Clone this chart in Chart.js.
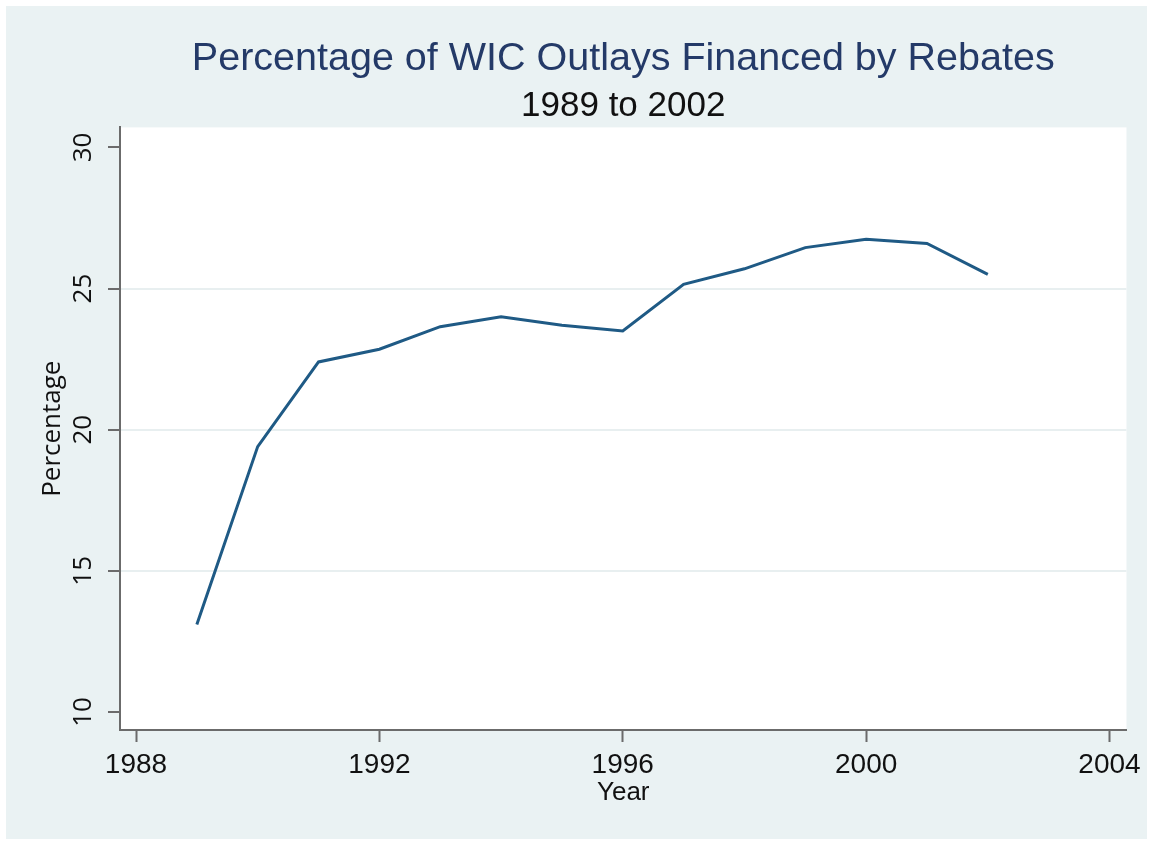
<!DOCTYPE html>
<html lang="en">
<head>
  <meta charset="UTF-8">
  <title>Percentage of WIC Outlays Financed by Rebates</title>
  <script src="https://cdn.jsdelivr.net/npm/chart.js"></script>
  <style>
    html, body { margin: 0; padding: 0; background: #fff; }
    #wrap {
      position: absolute; left: 6px; top: 6px;
      width: 1141px; height: 833px;
      background: #eaf2f3;
    }
  </style>
</head>
<body>
  <div id="wrap"><canvas id="myChart"></canvas></div>

  <script>
    // values
    const years = [1989, 1990, 1991, 1992, 1993, 1994, 1995, 1996, 1997, 1998, 1999, 2000, 2001, 2002];
    const percentages = [13.1, 19.4, 22.4, 22.85, 23.65, 24.0, 23.7, 23.5, 25.15, 25.7, 26.45, 26.75, 26.6, 25.5];
    const xTicks = [1988, 1992, 1996, 2000, 2004];
    const yTicks = [10, 15, 20, 25, 30];
    const yGridAt = [15, 20, 25];

    // white plot region
    const plotBg = {
      id: 'plotBg',
      beforeDraw(chart) {
        const { ctx, chartArea: a } = chart;
        ctx.save();
        ctx.fillStyle = '#ffffff';
        ctx.fillRect(a.left, a.top, a.right - a.left, a.bottom - a.top);
        ctx.restore();
      }
    };

    document.addEventListener('DOMContentLoaded', function() {
      const ctx = document.getElementById('myChart').getContext('2d');

      new Chart(ctx, {
        type: 'line',
        data: {
          datasets: [{
            label: 'Percentage',
            data: years.map((y, i) => ({ x: y, y: percentages[i] })),
            borderColor: '#1f5a85',
            borderWidth: 3,
            pointRadius: 0,
            tension: 0,
            fill: false
          }]
        },
        options: {
          responsive: true,
          maintainAspectRatio: false,
          animation: false,
          layout: { padding: { left: 0, right: 20, top: 0, bottom: 0 } },
          scales: {
            x: {
              type: 'linear',
              min: 1987.737,
              max: 2004.279,
              afterBuildTicks: s => { s.ticks = xTicks.map(v => ({ value: v })); },
              afterFit: s => { s.height = 109; },
              ticks: {
                callback: v => String(v),
                font: { family: '"Liberation Sans", Arial, sans-serif', size: 28 },
                color: '#111',
                padding: 6,
                maxRotation: 0,
                autoSkip: false
              },
              grid: {
                drawOnChartArea: false,
                tickColor: '#6b6b6b',
                tickLength: 12,
                tickWidth: 2
              },
              border: { color: '#6b6b6b', width: 2 },
              title: {
                display: true,
                text: 'Year',
                font: { family: '"Liberation Sans", Arial, sans-serif', size: 26 },
                color: '#111',
                padding: { top: 0, bottom: 31 }
              }
            },
            y: {
              min: 9.36,
              max: 30.71,
              afterBuildTicks: s => { s.ticks = yTicks.map(v => ({ value: v })); },
              afterFit: s => { s.width = 114; },
              ticks: {
                font: { family: '"Open Sans", sans-serif', size: 26 },
                color: '#111',
                padding: 10,
                minRotation: 90,
                maxRotation: 90,
                crossAlign: 'center',
                autoSkip: false
              },
              grid: {
                color: c => (c.tick && yGridAt.includes(c.tick.value)) ? '#e8eff0' : 'rgba(0,0,0,0)',
                lineWidth: 2,
                tickColor: '#6b6b6b',
                tickLength: 12,
                tickWidth: 2
              },
              border: { color: '#6b6b6b', width: 2 },
              title: {
                display: true,
                text: 'Percentage',
                font: { family: '"Open Sans", sans-serif', size: 26 },
                color: '#111',
                padding: { top: 31, bottom: 0 }
              }
            }
          },
          plugins: {
            legend: { display: false },
            tooltip: { enabled: false },
            title: {
              display: true,
              fullSize: false,
              text: 'Percentage of WIC Outlays Financed by Rebates',
              color: '#243a68',
              font: { family: '"Liberation Sans", Arial, sans-serif', size: 39.5, weight: 'normal', lineHeight: 1.2 },
              padding: { top: 29, bottom: 0 }
            },
            subtitle: {
              display: true,
              fullSize: false,
              text: '1989 to 2002',
              color: '#111',
              font: { family: '"Liberation Sans", Arial, sans-serif', size: 35, lineHeight: 1.2 },
              padding: { top: 3, bottom: 0 }
            }
          }
        },
        plugins: [plotBg]
      });
    });
  </script>
</body>
</html>
